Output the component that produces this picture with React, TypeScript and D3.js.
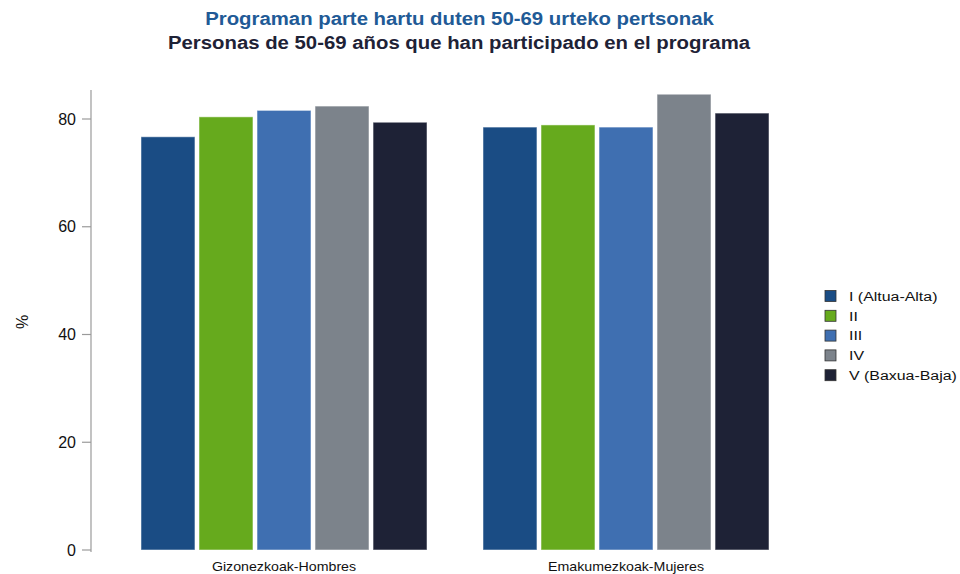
import React from "react";
import * as d3 from "d3";

const groups = ["Gizonezkoak-Hombres", "Emakumezkoak-Mujeres"];
const seriesNames = ["I (Altua-Alta)", "II", "III", "IV", "V (Baxua-Baja)"];
const seriesColors = ["#1a4c84", "#66aa1d", "#3f6fb1", "#7c838b", "#1e2236"];
const valuesHombres = [76.7, 80.4, 81.6, 82.4, 79.4];
const valuesMujeres = [78.5, 78.9, 78.5, 84.6, 81.1];
const yTicks = [0, 20, 40, 60, 80];

const W = 960;
const H = 574;
const FONT = "'Liberation Sans', Arial, sans-serif";

export default function App() {
  const data = [valuesHombres, valuesMujeres];
  const y = d3.scaleLinear().domain([0, 80]).range([550, 119]);
  const x0 = d3.scaleBand<string>().domain(groups).range([113, 797]).padding(0);
  const x1 = d3
    .scaleBand<string>()
    .domain(seriesNames)
    .range([28, 314])
    .paddingInner(0.07)
    .paddingOuter(0);
  const axisX = 91;

  return (
    <svg
      width={W}
      height={H}
      style={{ position: "absolute", left: 0, top: 0, background: "#fff" }}
      fontFamily={FONT}
    >
      <text
        transform="translate(459.5,24.5) scale(1.1,1)"
        textAnchor="middle"
        fontSize={18.5}
        fontWeight="bold"
        fill="#215a96"
      >
        Programan parte hartu duten 50-69 urteko pertsonak
      </text>
      <text
        transform="translate(459,48.5) scale(1.1,1)"
        textAnchor="middle"
        fontSize={18.5}
        fontWeight="bold"
        fill="#1e2236"
      >
        Personas de 50-69 años que han participado en el programa
      </text>

      {/* y axis */}
      <line x1={axisX} x2={axisX} y1={90} y2={552} stroke="#9a9a9a" strokeWidth={1.2} />
      {yTicks.map((t) => (
        <g key={t}>
          <line x1={82} x2={axisX} y1={y(t)} y2={y(t)} stroke="#9a9a9a" strokeWidth={1.2} />
          <text x={76} y={y(t)} dy="0.35em" textAnchor="end" fontSize={16} fill="#111">
            {t}
          </text>
        </g>
      ))}
      <text
        transform={`translate(28,322) rotate(-90)`}
        textAnchor="middle"
        fontSize={16}
        fill="#111"
      >
        %
      </text>

      {/* bars */}
      {groups.map((g, gi) => (
        <g key={g} transform={`translate(${x0(g)},0)`}>
          {seriesNames.map((s, si) => {
            const v = data[gi][si];
            return (
              <rect
                key={s}
                x={x1(s)}
                y={y(v)}
                width={x1.bandwidth()}
                height={y(0) - y(v)}
                fill={seriesColors[si]}
                stroke="#ffffff"
                strokeOpacity={0.5}
                strokeWidth={1}
              />
            );
          })}
          <text
            transform={`translate(${x0.bandwidth() / 2},571) scale(1.135,1)`}
            textAnchor="middle"
            fontSize={12.5}
            fill="#111"
          >
            {g}
          </text>
        </g>
      ))}

      {/* legend */}
      {seriesNames.map((s, i) => {
        const cy = 296 + i * 19.8;
        return (
          <g key={s}>
            <rect
              x={825}
              y={cy - 5.5}
              width={11}
              height={11}
              fill={seriesColors[i]}
              stroke="#333"
              strokeWidth={0.8}
            />
            <text
              transform={`translate(849,${cy + 4.8}) scale(1.18,1)`}
              fontSize={13.5}
              fill="#111"
            >
              {s}
            </text>
          </g>
        );
      })}
    </svg>
  );
}
